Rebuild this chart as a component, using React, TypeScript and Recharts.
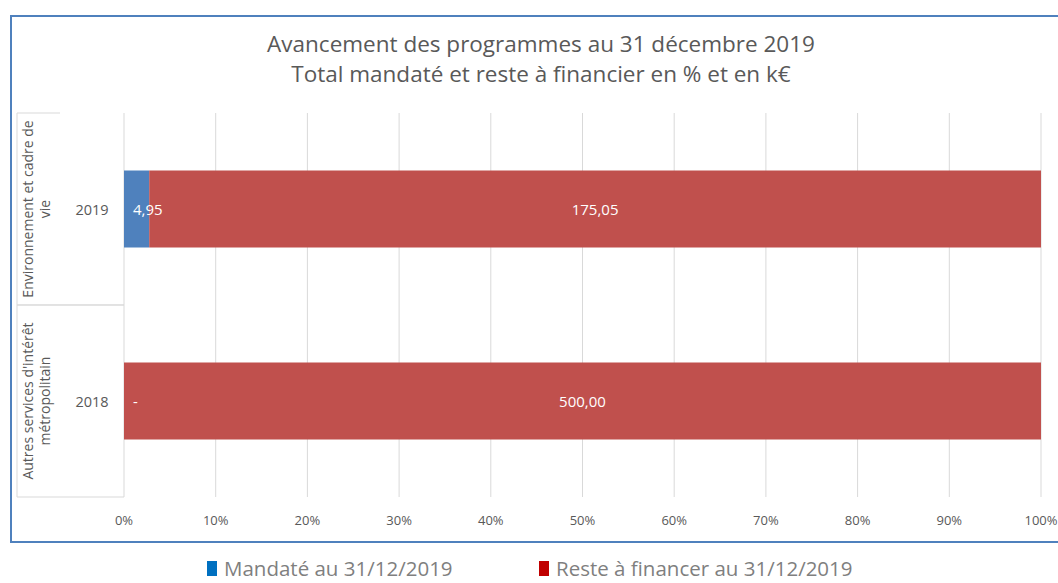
import React from 'react';
import { BarChart, Bar, XAxis, YAxis, CartesianGrid, LabelList } from 'recharts';

const years = ['2019', '2018'];
const groupLabels = [
  ['Environnement et cadre de', 'vie'],
  ["Autres services d'intérêt", 'métropolitain'],
];
const mandateValues = [4.95, 0];
const remainingValues = [175.05, 500];
const xTicks = [0, 0.1, 0.2, 0.3, 0.4, 0.5, 0.6, 0.7, 0.8, 0.9, 1];

const titleLines = [
  'Avancement des programmes au 31 décembre 2019',
  'Total mandaté et reste à financier en % et en k€',
];
const legendItems = [
  { label: 'Mandaté au 31/12/2019', color: '#0070C0' },
  { label: 'Reste à financer au 31/12/2019', color: '#C00000' },
];

const FONT = '"Open Sans", sans-serif';
const W = 1058;
const H = 583;
const MARGIN = { top: 113, right: 17, bottom: 56, left: 17 };
const PLOT_H = H - MARGIN.top - MARGIN.bottom - 30;
const HALF_BAND = PLOT_H / years.length / 2;

const data = years.map((year, i) => ({
  year,
  mandate: mandateValues[i],
  remaining: remainingValues[i],
}));

const formatValue = (v: number) => (v === 0 ? '-' : v.toFixed(2).replace('.', ','));

const labelText = (x: number, y: number, text: string, anchor: 'start' | 'middle') => (
  <text
    x={x}
    y={y}
    fill="#ffffff"
    fontSize={15}
    fontFamily={FONT}
    textAnchor={anchor}
    dominantBaseline="central"
  >
    {text}
  </text>
);

const BarLabel = (props: any) => {
  const { x, y, width, height, value } = props;
  if (!value) return null;
  if (width < 40) return labelText(x + 9, y + height / 2, formatValue(value), 'start');
  return labelText(x + width / 2, y + height / 2, formatValue(value), 'middle');
};

// zero-valued "mandaté" segments have no bar, so their "-" is drawn at the base of the next segment
const ZeroLabel = (props: any) => {
  const { x, y, height, value } = props;
  if (value !== 0) return null;
  return labelText(x + 9, y + height / 2, formatValue(value), 'start');
};

const CategoryTick = (props: any) => {
  const { y, payload, index } = props;
  const lines = groupLabels[index] || [];
  const top = y - HALF_BAND;
  const bottom = y + HALF_BAND;
  return (
    <g>
      <text x={92} y={y} fill="#595959" fontSize={14.5} fontFamily={FONT} textAnchor="middle" dominantBaseline="central">
        {payload.value}
      </text>
      <g transform={`translate(36, ${y}) rotate(-90)`}>
        {lines.map((l, i) => (
          <text
            key={i}
            x={0}
            y={(i - (lines.length - 1) / 2) * 17}
            fill="#595959"
            fontSize={14}
            fontFamily={FONT}
            textAnchor="middle"
            dominantBaseline="central"
          >
            {l}
          </text>
        ))}
      </g>
      <line x1={17} x2={index === 0 ? 60 : 124} y1={top} y2={top} stroke="#d9d9d9" />
      <line x1={17} x2={124} y1={bottom} y2={bottom} stroke="#d9d9d9" />
      <line x1={17} x2={17} y1={top} y2={bottom} stroke="#d9d9d9" />
    </g>
  );
};

export default function App() {
  return (
    <div style={{ position: 'absolute', left: 0, top: 0, width: W, height: H, background: '#fff', fontFamily: FONT, overflow: 'hidden' }}>
      <div
        style={{
          position: 'absolute',
          left: 10,
          top: 15,
          width: W + 20,
          height: 524,
          border: '2px solid #4F81BD',
        }}
      />
      <div style={{ position: 'absolute', left: 0, top: 29, width: 1082, textAlign: 'center', color: '#595959', fontSize: 22.5, lineHeight: '30px' }}>
        {titleLines.map((t) => (
          <div key={t}>{t}</div>
        ))}
      </div>
      <div style={{ position: 'absolute', left: 0, top: 0 }}>
        <BarChart
          width={W}
          height={H}
          data={data}
          layout="vertical"
          stackOffset="expand"
          barCategoryGap="30%"
          margin={MARGIN}
        >
          <CartesianGrid horizontal={false} vertical stroke="#d9d9d9" />
          <XAxis
            type="number"
            domain={[0, 1]}
            ticks={xTicks}
            tickFormatter={(t) => `${Math.round(t * 100)}%`}
            axisLine={false}
            tickLine={false}
            tickMargin={13}
            height={30}
            tick={{ fill: '#595959', fontSize: 13, fontFamily: FONT }}
            interval={0}
          />
          <YAxis
            type="category"
            dataKey="year"
            width={107}
            axisLine={false}
            tickLine={false}
            tick={<CategoryTick />}
          />
          <Bar dataKey="mandate" stackId="a" fill="#4F81BD" isAnimationActive={false}>
            <LabelList dataKey="mandate" content={<BarLabel />} />
          </Bar>
          <Bar dataKey="remaining" stackId="a" fill="#C0504D" isAnimationActive={false}>
            <LabelList dataKey="remaining" content={<BarLabel />} />
            <LabelList dataKey="mandate" content={<ZeroLabel />} />
          </Bar>
        </BarChart>
      </div>
      <div style={{ position: 'absolute', left: 0, top: 556, width: W, height: 25 }}>
        {legendItems.map((item, i) => (
          <div
            key={item.label}
            style={{
              position: 'absolute',
              left: i === 0 ? 207 : 539,
              top: 0,
              display: 'flex',
              alignItems: 'center',
              color: '#7F7F7F',
              fontSize: 20.5,
              lineHeight: '25px',
              whiteSpace: 'nowrap',
            }}
          >
            <span style={{ display: 'inline-block', width: 10, height: 15, background: item.color, marginRight: 7 }} />
            {item.label}
          </div>
        ))}
      </div>
    </div>
  );
}
